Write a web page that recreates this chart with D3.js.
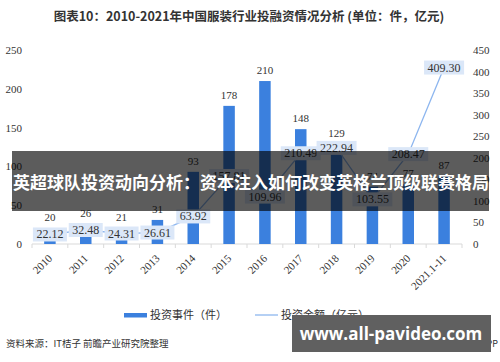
<!DOCTYPE html>
<html>
<head>
<meta charset="utf-8">
<script src="https://cdn.jsdelivr.net/npm/d3@7/dist/d3.min.js"></script>
<style>
  body { margin: 0; background: #fff; }
  svg { display: block; }
  .cjk { font-family: "Noto Sans CJK SC", sans-serif; }
  .num { font-family: "Liberation Serif", "Times New Roman", serif; }
</style>
</head>
<body>
<svg class="chart" width="500" height="362"></svg>
<script>
const years = ["2010", "2011", "2012", "2013", "2014", "2015", "2016", "2017", "2018", "2019", "2020", "2021.1-11"];
const events = [20, 26, 21, 31, 93, 178, 210, 148, 129, 74, 77, 87];
const amounts = [22.12, 32.48, 24.31, 26.61, 63.92, 157.81, 109.96, 210.49, 222.94, 103.55, 208.47, 409.30];
const leftTicks = [0, 50, 100, 150, 200, 250];
const rightTicks = [0, 50, 100, 150, 200, 250, 300, 350, 400, 450];

const barColor = '#3b80de';
const lineColor = '#8db6ef';

const svg = d3.select('svg.chart');

const x = d3.scaleBand()
  .domain(years)
  .range([32, 462]);

const yL = d3.scaleLinear().domain([0, 250]).range([244, 50]);
const yR = d3.scaleLinear().domain([0, 450]).range([244, 50]);

// title
svg.append('text')
  .attr('class', 'cjk')
  .attr('x', 249)
  .attr('y', 21)
  .attr('text-anchor', 'middle')
  .style('font-size', '12.5px')
  .style('font-weight', 'bold')
  .style('fill', '#333')
  .text('图表10：2010-2021年中国服装行业投融资情况分析 (单位：件，亿元)');

// axes
const leftAxis = svg.append('g')
  .attr('transform', 'translate(22,0)')
  .call(d3.axisLeft(yL).tickValues(leftTicks).tickSize(0).tickPadding(0));
leftAxis.select('.domain').remove();
leftAxis.selectAll('text')
  .attr('class', 'num')
  .style('font-size', '11px')
  .style('fill', '#333');

const rightAxis = svg.append('g')
  .attr('transform', 'translate(473,0)')
  .call(d3.axisRight(yR).tickValues(rightTicks).tickSize(0).tickPadding(0));
rightAxis.select('.domain').remove();
rightAxis.selectAll('text')
  .attr('class', 'num')
  .style('font-size', '11px')
  .style('fill', '#333');

const xAxis = svg.append('g')
  .attr('transform', 'translate(0,244)');
xAxis.append('line')
  .attr('x1', x.range()[0]).attr('x2', x.range()[1])
  .attr('y1', 0).attr('y2', 0)
  .style('stroke', '#d9d9d9');
xAxis.selectAll('line.tick')
  .data(years.concat(['end']))
  .enter()
  .append('line')
  .attr('class', 'tick')
  .attr('x1', (d, i) => x.range()[0] + i * x.step())
  .attr('x2', (d, i) => x.range()[0] + i * x.step())
  .attr('y1', 0).attr('y2', 4)
  .style('stroke', '#d9d9d9');
xAxis.selectAll('text')
  .data(years)
  .enter()
  .append('text')
  .attr('class', 'num')
  .attr('text-anchor', 'end')
  .attr('transform', d => `translate(${x(d) + x.bandwidth() / 2 + 3},${15}) rotate(-45)`)
  .style('font-size', '11px')
  .style('fill', '#333')
  .text(d => d);

// bars
const barW = 11.5;
svg.selectAll('rect.bar')
  .data(events)
  .enter()
  .append('rect')
  .attr('class', 'bar')
  .attr('x', (d, i) => x(years[i]) + x.bandwidth() / 2 - barW / 2)
  .attr('y', d => yL(d))
  .attr('width', barW)
  .attr('height', d => yL(0) - yL(d))
  .style('fill', barColor);

svg.selectAll('text.barLabel')
  .data(events)
  .enter()
  .append('text')
  .attr('class', 'barLabel num')
  .attr('x', (d, i) => x(years[i]) + x.bandwidth() / 2)
  .attr('y', d => yL(d) - 7)
  .attr('text-anchor', 'middle')
  .style('font-size', '11px')
  .style('fill', '#333')
  .text(d => d);

// line
const line = d3.line()
  .x((d, i) => x(years[i]) + x.bandwidth() / 2)
  .y(d => yR(d));

svg.append('path')
  .datum(amounts)
  .attr('d', line)
  .style('fill', 'none')
  .style('stroke', lineColor)
  .style('stroke-width', 1.3);

const lblG = svg.selectAll('g.amtLabel')
  .data(amounts)
  .enter()
  .append('g')
  .attr('class', 'amtLabel')
  .attr('transform', (d, i) => `translate(${x(years[i]) + x.bandwidth() / 2},${yR(d)})`);

lblG.append('text')
  .attr('class', 'num')
  .attr('text-anchor', 'middle')
  .attr('y', 4)
  .style('font-size', '12px')
  .style('fill', '#333')
  .text(d => d.toFixed(2));

lblG.each(function() {
  const g = d3.select(this);
  const bb = g.select('text').node().getBBox();
  g.insert('rect', 'text')
    .attr('x', bb.x - 3.5)
    .attr('y', -7)
    .attr('width', bb.width + 7)
    .attr('height', 14)
    .style('fill', '#dbe7f8');
});

// legend
const legend = svg.append('g').attr('class', 'cjk');
legend.append('rect')
  .attr('x', 124).attr('y', 313)
  .attr('width', 23).attr('height', 4.5)
  .style('fill', barColor);
legend.append('text')
  .attr('x', 150).attr('y', 319)
  .style('font-size', '11px')
  .style('fill', '#333')
  .text('投资事件（件）');
legend.append('line')
  .attr('x1', 255).attr('x2', 278)
  .attr('y1', 315).attr('y2', 315)
  .style('stroke', lineColor)
  .style('stroke-width', 1.3);
legend.append('text')
  .attr('x', 281).attr('y', 319)
  .style('font-size', '11px')
  .style('fill', '#333')
  .text('投资金额（亿元）');

// source
svg.append('text')
  .attr('class', 'cjk')
  .attr('x', 6).attr('y', 347)
  .style('font-size', '9.5px')
  .style('fill', '#333')
  .text('资料来源：IT桔子 前瞻产业研究院整理');
svg.append('text')
  .attr('class', 'cjk')
  .attr('x', 498).attr('y', 347)
  .attr('text-anchor', 'end')
  .style('font-size', '9px')
  .style('fill', '#333')
  .text('@前瞻经济学人APP');

// overlays
svg.append('rect')
  .attr('x', 12).attr('y', 151)
  .attr('width', 477).attr('height', 60)
  .style('fill', 'rgba(0,0,0,0.64)');
svg.append('text')
  .attr('class', 'cjk')
  .attr('x', 13).attr('y', 189)
  .style('font-size', '17px')
  .style('font-weight', 'bold')
  .style('fill', '#fff')
  .text('英超球队投资动向分析：资本注入如何改变英格兰顶级联赛格局');

svg.append('rect')
  .attr('x', 292).attr('y', 315)
  .attr('width', 199).attr('height', 37)
  .style('fill', '#606060');
svg.append('text')
  .attr('x', 391).attr('y', 340)
  .attr('text-anchor', 'middle')
  .style('font-family', '"Open Sans", sans-serif')
  .style('font-size', '17px')
  .style('font-weight', 'bold')
  .style('fill', '#fff')
  .text('www.all-pavideo.com');
</script>
</body>
</html>
